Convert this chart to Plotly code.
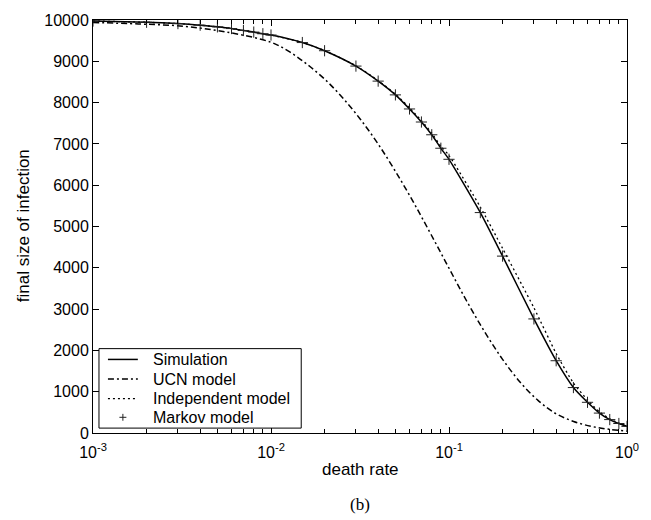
import plotly.graph_objects as go

# death rate values (x) for simulation / Markov markers
rate = [0.001, 0.002, 0.003, 0.004, 0.005, 0.006, 0.007, 0.008, 0.009, 0.01,
        0.015, 0.02, 0.03, 0.04, 0.05, 0.06, 0.07, 0.08, 0.09, 0.1,
        0.15, 0.2, 0.3, 0.4, 0.5, 0.6, 0.7, 0.8, 0.9, 1.0]
simulation = [9975, 9945, 9913, 9874, 9834, 9793, 9746, 9707, 9667, 9636,
              9454, 9256, 8884, 8520, 8187, 7846, 7530, 7221, 6895, 6627,
              5337, 4283, 2762, 1750, 1100, 743, 482, 325, 230, 160]
markov = [9975, 9945, 9913, 9874, 9834, 9793, 9746, 9707, 9667, 9636,
          9454, 9256, 8884, 8520, 8187, 7846, 7530, 7221, 6895, 6627,
          5337, 4283, 2762, 1750, 1100, 743, 482, 325, 230, 160]
independent = [9975, 9945, 9913, 9874, 9834, 9793, 9746, 9707, 9667, 9636,
               9456, 9260, 8892, 8532, 8207, 7872, 7565, 7262, 6945, 6720,
               5470, 4470, 3030, 1925, 1210, 800, 510, 345, 240, 165]

ucn_rate = [0.001, 0.0018, 0.0032, 0.0056, 0.01, 0.0126, 0.0158, 0.02, 0.0251,
            0.0316, 0.0398, 0.0501, 0.0631, 0.0794, 0.1, 0.1259, 0.1585, 0.1995,
            0.2512, 0.3162, 0.3981, 0.5012, 0.631, 0.7943, 1.0]
ucn = [9940, 9905, 9850, 9710, 9460, 9240, 8940, 8570, 8130,
       7610, 7010, 6330, 5590, 4800, 3990, 3190, 2450, 1790,
       1230, 790, 470, 280, 160, 90, 45]

xtick_vals = [0.001, 0.01, 0.1, 1]
xtick_text = ["10<sup>-3</sup>", "10<sup>-2</sup>", "10<sup>-1</sup>", "10<sup>0</sup>"]
minor_vals = [m * 10 ** e for e in (-3, -2, -1) for m in range(2, 10)]
ytick_vals = list(range(0, 10001, 1000))
ytick_text = [str(v) for v in ytick_vals]

legend_names = ["Simulation", "UCN model", "Independent model", "Markov model"]
legend_dash = ["solid", "6px,3px,2px,3px", "2px,3px", None]

FONT = "Liberation Sans, Arial, sans-serif"
L, R, T, B = 93, 629, 12, 433  # plot area in pixels


def px(xp):
    return (xp - L) / (R - L)


def py(yp):
    return (B - yp) / (B - T)


fig = go.Figure()
fig.add_trace(go.Scatter(x=rate, y=simulation, mode="lines", name=legend_names[0],
                         line=dict(color="black", width=1.5, shape="spline", smoothing=0.6)))
fig.add_trace(go.Scatter(x=ucn_rate, y=ucn, mode="lines", name=legend_names[1],
                         line=dict(color="black", width=1.5, dash=legend_dash[1],
                                   shape="spline", smoothing=1.0)))
fig.add_trace(go.Scatter(x=rate, y=independent, mode="lines", name=legend_names[2],
                         line=dict(color="black", width=1.3, dash=legend_dash[2],
                                   shape="spline", smoothing=0.6)))
fig.add_trace(go.Scatter(x=rate, y=markov, mode="markers", name=legend_names[3],
                         marker=dict(symbol="cross-thin", size=8, color="#222",
                                     line=dict(color="#222", width=1))))

fig.update_layout(
    width=651, height=520,
    margin=dict(l=L, r=651 - R, t=T, b=520 - B),
    paper_bgcolor="white", plot_bgcolor="white",
    font=dict(family=FONT, size=16, color="black"),
    showlegend=False,
)
fig.update_xaxes(type="log", range=[-3, 0], tickmode="array",
                 tickvals=xtick_vals, ticktext=xtick_text,
                 ticks="inside", ticklen=6, tickcolor="black",
                 showline=True, linecolor="black", linewidth=1, mirror="ticks",
                 showgrid=False, zeroline=False, ticklabelstandoff=5,
                 minor=dict(tickmode="array", tickvals=minor_vals, ticks="inside",
                            ticklen=4, tickcolor="black", showgrid=False),
                 tickfont=dict(size=16))
fig.update_yaxes(range=[0, 10000], tickmode="array", tickvals=ytick_vals,
                 ticktext=ytick_text,
                 ticks="inside", ticklen=6, tickcolor="black",
                 showline=True, linecolor="black", linewidth=1, mirror="ticks",
                 showgrid=False, zeroline=False, tickfont=dict(size=16))

# axis titles and caption
fig.add_annotation(text="death rate", xref="paper", yref="paper", x=0.5, y=py(470),
                   showarrow=False, yanchor="middle", font=dict(size=17))
fig.add_annotation(text="(b)", xref="paper", yref="paper", x=0.5, y=py(506),
                   showarrow=False, yanchor="middle",
                   font=dict(size=17, family="Liberation Serif, Times New Roman, serif"))
fig.add_annotation(text="final size of infection", xref="paper", yref="paper",
                   x=px(23), y=py(222), textangle=-90, showarrow=False,
                   xanchor="center", yanchor="middle", font=dict(size=17))

# legend (drawn as a boxed key)
fig.add_shape(type="rect", xref="paper", yref="paper", x0=px(99), x1=px(302),
              y0=py(428), y1=py(347), line=dict(color="black", width=1),
              fillcolor="white", layer="above")
rows = [358, 378, 398, 417]
for name, dash, ry in zip(legend_names, legend_dash, rows):
    if dash is not None:
        fig.add_shape(type="line", xref="paper", yref="paper", x0=px(108), x1=px(138),
                      y0=py(ry), y1=py(ry), layer="above",
                      line=dict(color="black", width=1.5 if dash != "2px,3px" else 1.3, dash=dash))
    else:
        fig.add_shape(type="line", xref="paper", yref="paper", x0=px(119.5), x1=px(126.5),
                      y0=py(ry), y1=py(ry), layer="above", line=dict(color="#222", width=1))
        fig.add_shape(type="line", xref="paper", yref="paper", x0=px(123), x1=px(123),
                      y0=py(ry - 3.5), y1=py(ry + 3.5), layer="above",
                      line=dict(color="#222", width=1))
    fig.add_annotation(text=name, xref="paper", yref="paper", x=px(151), y=py(ry),
                       xanchor="left", yanchor="middle", showarrow=False,
                       font=dict(size=16))

fig.write_html("out.html")
